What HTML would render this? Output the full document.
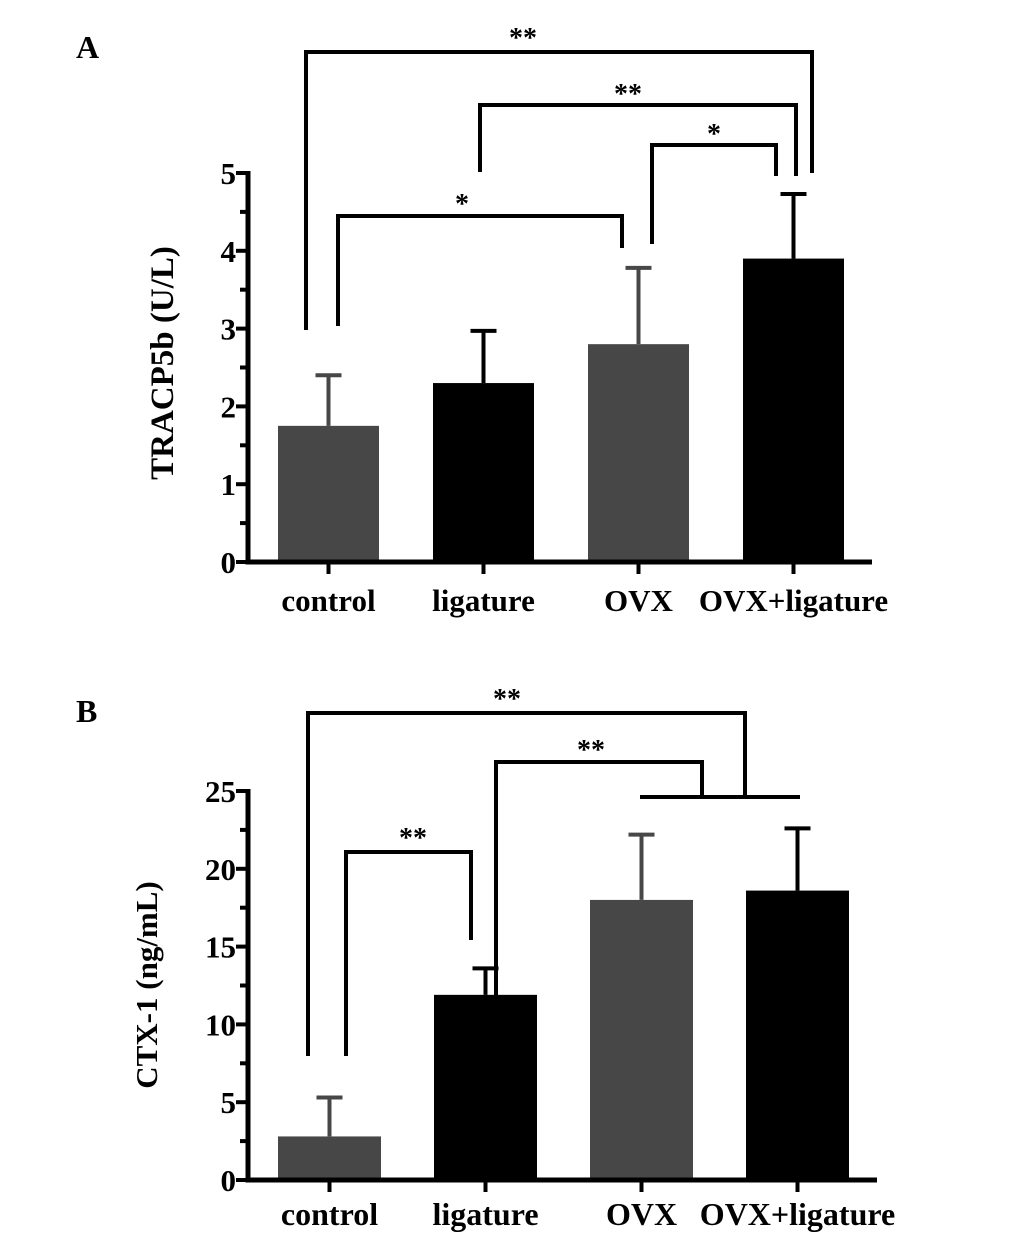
<!DOCTYPE html>
<html><head><meta charset="utf-8"><style>
body{margin:0;background:#fff}
svg text{font-family:"Liberation Serif",serif;font-weight:bold;fill:#000}
</style></head><body>
<svg id="s" width="1033" height="1247" viewBox="0 0 1033 1247">
<text x="76" y="58" font-size="32">A</text>
<text x="76" y="722" font-size="32">B</text>
<text transform="translate(173,363) rotate(-90)" text-anchor="middle" font-size="33">TRACP5b  (U/L)</text>
<text transform="translate(157,985) rotate(-90)" text-anchor="middle" font-size="31">CTX-1 (ng/mL)</text>
<g id="ga"></g><g id="gb"></g>
<g fill="none" stroke="#000" stroke-width="4">
<polyline points="306,330 306,52 812,52 812,173"/>
<polyline points="480,172 480,105 796,105 796,176"/>
<polyline points="652,244 652,145 776,145 776,176"/>
<polyline points="338,326 338,216 622,216 622,248"/>
<polyline points="308,1056 308,713 745,713 745,797"/>
<polyline points="496,1048 496,762 702,762 702,797"/>
<line x1="640" y1="797" x2="800" y2="797"/>
<polyline points="346,1056 346,852 471,852 471,940"/>
</g>
<g font-size="28" text-anchor="middle">
<text x="523" y="47">**</text><text x="628" y="103">**</text><text x="714" y="143">*</text><text x="462" y="213">*</text>
<text x="507" y="708">**</text><text x="591" y="759">**</text><text x="413" y="847">**</text>
</g>
</svg>
<script>
const categories=["control","ligature","OVX","OVX+ligature"];
const valuesA=[1.75,2.3,2.8,3.9];
const errA=[0.65,0.67,0.98,0.83];
const ticksA=[0,1,2,3,4,5];
const valuesB=[2.8,11.9,18.0,18.6];
const errB=[2.5,1.7,4.2,4.0];
const ticksB=[0,5,10,15,20,25];
const colors=["#474747","#000","#474747","#000"];
const NS="http://www.w3.org/2000/svg";
function mk(p,t,a){const e=document.createElementNS(NS,t);for(const k in a)e.setAttribute(k,a[k]);p.appendChild(e);return e;}
function panel(g,vals,errs,ticks,o){
  const max=ticks[ticks.length-1];
  const y=v=>o.y0-(v/max)*(o.y0-o.yTop);
  const bx=i=>o.x0+o.first+i*o.step;
  vals.forEach((v,i)=>{
    const x=bx(i);
    const r=mk(g,'rect',{x:x,y:y(v),width:o.bw,height:o.y0-y(v),fill:colors[i]});
    
    
    const c=x+o.bw/2;
    const e=mk(g,'path',{d:`M${c},${y(v)}V${y(v+errs[i])}M${c-13},${y(v+errs[i])}H${c+13}`,stroke:colors[i],'stroke-width':4,fill:'none'});
    
    
    mk(g,'line',{x1:c,y1:o.y0,x2:c,y2:o.y0+12,stroke:'#000','stroke-width':4});
    const t=mk(g,'text',{x:c,y:o.y0+o.ly,'font-size':o.fs,'text-anchor':'middle'});
    t.textContent=categories[i];
    
    
  });
  ticks.forEach((t,i)=>{
    mk(g,'line',{x1:o.x0-12,y1:y(t),x2:o.x0,y2:y(t),stroke:'#000','stroke-width':4});
    if(i<ticks.length-1){const h=(t+ticks[i+1])/2;mk(g,'line',{x1:o.x0-8,y1:y(h),x2:o.x0,y2:y(h),stroke:'#000','stroke-width':4});}
    const tx=mk(g,'text',{x:o.x0-12,y:y(t)+11,'font-size':31,'text-anchor':'end'});
    tx.textContent=t;
    
    
  });
  const ax=mk(g,'path',{d:`M${o.x0},${o.yTop-2}V${o.y0}H${o.xEnd}`,stroke:'#000','stroke-width':5,fill:'none'});
  
  
}
panel(document.getElementById('ga'),valuesA,errA,ticksA,{x0:248,y0:562,yTop:173,first:30,step:155,bw:101,xEnd:872,ly:49,fs:31});
panel(document.getElementById('gb'),valuesB,errB,ticksB,{x0:248,y0:1180,yTop:791,first:30,step:156,bw:103,xEnd:877,ly:45,fs:32});
</script>
</body></html>
